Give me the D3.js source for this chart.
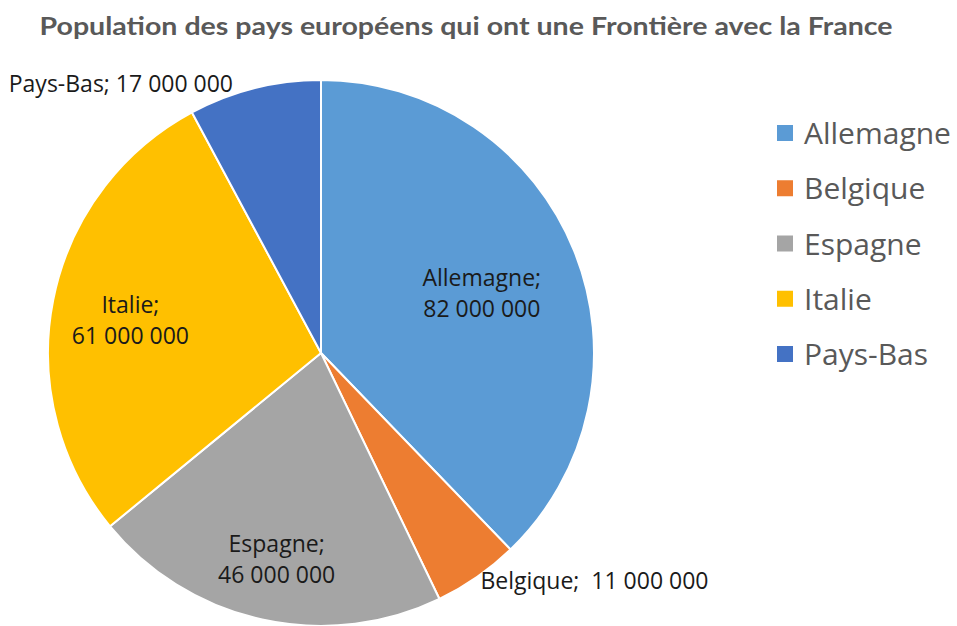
<!DOCTYPE html>
<html>
<head>
<meta charset="utf-8">
<script src="https://cdn.jsdelivr.net/npm/d3@7"></script>
<style>
    html, body { margin: 0; padding: 0; background: #fff; }
    svg { display: block; }
</style>
</head>
<body>
<div id="chart"></div>
<script>
(function () {
    "use strict";

    const pays = ["Allemagne", "Belgique", "Espagne", "Italie", "Pays-Bas"];
    const population = [82000000, 11000000, 46000000, 61000000, 17000000];
    const couleurs = ["#5b9bd5", "#ed7d31", "#a5a5a5", "#ffc000", "#4472c4"];
    const titre = "Population des pays européens qui ont une Frontière avec la France";

    const width = 957;
    const height = 626;
    const cx = 321;
    const cy = 353;
    const radius = 273;

    const fr = d3.formatLocale({ decimal: ",", thousands: " ", grouping: [3], currency: ["", " €"] });
    const fmt = fr.format(",d");

    const data = pays.map((p, i) => ({ pays: p, valeur: population[i] }));

    const color = d3.scaleOrdinal().domain(pays).range(couleurs);

    const svg = d3.select("#chart").append("svg")
        .attr("width", width)
        .attr("height", height);

    svg.append("text")
        .attr("x", 466)
        .attr("y", 35)
        .attr("text-anchor", "middle")
        .attr("font-family", "Lato, sans-serif")
        .attr("font-weight", "bold")
        .attr("font-size", 24)
        .attr("fill", "#595959")
        .attr("textLength", 853)
        .attr("lengthAdjust", "spacingAndGlyphs")
        .text(titre);

    const pie = d3.pie().sort(null).value(d => d.valeur);
    const arcs = pie(data);

    const arc = d3.arc().innerRadius(0).outerRadius(radius);
    const outsideArc = d3.arc().innerRadius(radius + 6).outerRadius(radius + 6);

    const g = svg.append("g").attr("transform", `translate(${cx},${cy})`);

    g.selectAll("path.slice")
        .data(arcs)
        .join("path")
        .attr("class", "slice")
        .attr("d", arc)
        .attr("fill", d => color(d.data.pays))
        .attr("stroke", "#fff")
        .attr("stroke-width", 2)
        .attr("stroke-linejoin", "round");

    // label point: sector centroid pushed a bit outward
    function labelPoint(d) {
        const half = (d.endAngle - d.startAngle) / 2;
        const mid = d.startAngle + half;
        const dist = 1.22 * (2 * radius * Math.sin(half)) / (3 * half);
        return [dist * Math.sin(mid), -dist * Math.cos(mid)];
    }

    // big slices: label inside on two lines, small ones: outside on one line
    const labelFont = "'Open Sans', sans-serif";
    arcs.forEach(d => {
        const span = d.endAngle - d.startAngle;
        if (span > 0.6) {
            const [x, y] = labelPoint(d);
            const t = g.append("text")
                .attr("text-anchor", "middle")
                .attr("font-family", labelFont)
                .attr("font-size", 23)
                .attr("fill", "#1a1a1a");
            t.append("tspan").attr("x", x).attr("y", y - 2).text(d.data.pays + ";");
            t.append("tspan").attr("x", x).attr("y", y + 29).text(fmt(d.data.valeur));
        } else {
            const [x, y] = outsideArc.centroid(d);
            const mid = (d.startAngle + d.endAngle) / 2;
            const right = Math.sin(mid) > 0;
            g.append("text")
                .attr("x", right ? x : x - 20)
                .attr("y", right ? y + 7 : y + 10)
                .attr("text-anchor", right ? "start" : "end")
                .attr("font-family", labelFont)
                .attr("font-size", 23)
                .attr("fill", "#1a1a1a")
                .style("white-space", "pre")
                .text(d.data.pays + (right ? ";  " : "; ") + fmt(d.data.valeur));
        }
    });

    // legend
    const legendY = d3.scalePoint().domain(pays).range([133, 354]);
    const legend = svg.append("g")
        .selectAll("g")
        .data(pays)
        .join("g")
        .attr("transform", d => `translate(777,${legendY(d)})`);

    legend.append("rect")
        .attr("x", 0)
        .attr("y", -8)
        .attr("width", 16)
        .attr("height", 16)
        .attr("fill", d => color(d));

    legend.append("text")
        .attr("x", 27)
        .attr("y", 11)
        .attr("font-family", labelFont)
        .attr("font-size", 30)
        .attr("fill", "#595959")
        .text(d => d);
}());
</script>
</body>
</html>
